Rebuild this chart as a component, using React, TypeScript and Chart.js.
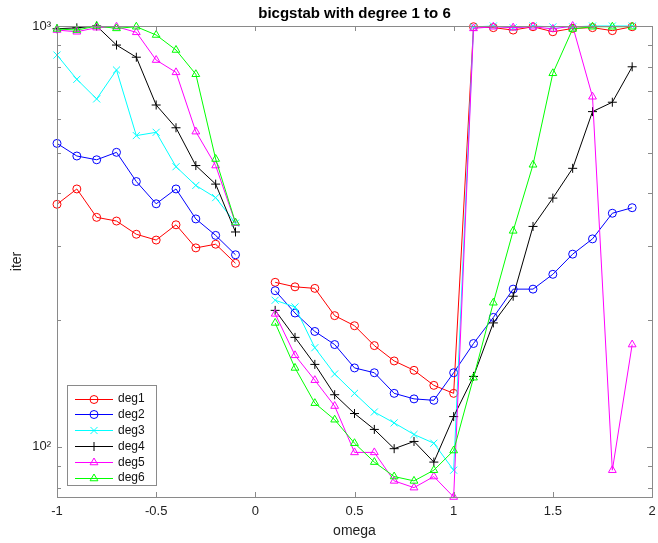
import React, { useEffect, useRef } from "react";
import { Chart, registerables } from "chart.js";

Chart.register(...registerables);

// omega values (x = 0 has no result)
const omega = [
  -1, -0.9, -0.8, -0.7, -0.6, -0.5, -0.4, -0.3, -0.2, -0.1, 0,
  0.1, 0.2, 0.3, 0.4, 0.5, 0.6, 0.7, 0.8, 0.9, 1.0,
  1.1, 1.2, 1.3, 1.4, 1.5, 1.6, 1.7, 1.8, 1.9,
];

const deg1 = [
  377, 410, 351, 344, 320, 310, 337, 297, 303, 273, null,
  246, 240, 238, 205, 194, 174, 160, 152, 140, 134,
  996, 991, 978, 996, 969, 987, 991, 975, 996,
];
const deg2 = [
  526, 491, 481, 501, 427, 378, 410, 348, 318, 286, null,
  235, 208, 188, 175, 154, 150, 134, 130, 129, 150,
  176, 203, 237, 237, 257, 287, 312, 359, 370,
];
const deg3 = [
  853, 747, 671, 786, 549, 559, 463, 418, 391, 340, null,
  223, 215, 172, 149, 134, 121, 114, 107, 102, 88,
  995, 1000, 990, 1000, 995, 995, 1000, 1000, 1000,
];
const deg4 = [
  985, 990, 1000, 901, 843, 649, 573, 466, 421, 324, null,
  211, 182, 157, 133, 120, 110, 99, 103, 92, 118,
  147, 197, 228, 334, 390, 459, 626, 659, 800,
];
const deg5 = [
  978, 969, 991, 996, 966, 830, 776, 561, 466, 340, null,
  207, 165, 144, 125, 97, 97, 83, 80, 85, 76,
  987, 996, 991, 996, 984, 1000, 679, 88, 175,
];
const deg6 = [
  984, 978, 1000, 987, 996, 952, 877, 768, 483, 341, null,
  197, 154, 127, 116, 102, 92, 85, 83, 88, 98,
  146, 220, 326, 468, 772, 984, 996, 996, 996,
];

const seriesNames = ["deg1", "deg2", "deg3", "deg4", "deg5", "deg6"];
const seriesValues = [deg1, deg2, deg3, deg4, deg5, deg6];
const seriesColors = ["#ff0000", "#0000ff", "#00ffff", "#000000", "#ff00ff", "#00ff00"];
const seriesMarkers = ["circle", "circle", "crossRot", "cross", "triangle", "triangle"];
const markerRadius: Record<string, number> = { circle: 4, crossRot: 5, cross: 4.5, triangle: 4.5 };

const xTicks = [-1, -0.5, 0, 0.5, 1, 1.5, 2];
const yMajorTicks = [100, 1000];
const yMajorLabels = ["10²", "10³"];
const yMinorTicks = [80, 90, 200, 300, 400, 500, 600, 700, 800, 900];

const titleText = "bicgstab with degree 1 to 6";
const xLabel = "omega";
const yLabel = "iter";

const FONT = '"Liberation Sans", Arial, Helvetica, sans-serif';
const AXIS_GRAY = "#8a8a8a";

function drawMarker(ctx: CanvasRenderingContext2D, style: string, x: number, y: number, r: number, color: string) {
  ctx.save();
  ctx.strokeStyle = color;
  ctx.lineWidth = 1;
  ctx.beginPath();
  if (style === "circle") {
    ctx.arc(x, y, r, 0, Math.PI * 2);
  } else if (style === "cross") {
    ctx.moveTo(x - r, y);
    ctx.lineTo(x + r, y);
    ctx.moveTo(x, y - r);
    ctx.lineTo(x, y + r);
  } else if (style === "crossRot") {
    const d = r * Math.SQRT1_2;
    ctx.moveTo(x - d, y - d);
    ctx.lineTo(x + d, y + d);
    ctx.moveTo(x - d, y + d);
    ctx.lineTo(x + d, y - d);
  } else if (style === "triangle") {
    let rad = 0;
    ctx.moveTo(x + Math.sin(rad) * r, y - Math.cos(rad) * r);
    rad += (2 * Math.PI) / 3;
    ctx.lineTo(x + Math.sin(rad) * r, y - Math.cos(rad) * r);
    rad += (2 * Math.PI) / 3;
    ctx.lineTo(x + Math.sin(rad) * r, y - Math.cos(rad) * r);
    ctx.closePath();
  }
  ctx.stroke();
  ctx.restore();
}

const matlabAxesPlugin = {
  id: "matlabAxes",
  afterDraw(chart: any) {
    const ctx: CanvasRenderingContext2D = chart.ctx;
    const { left, right, top, bottom } = chart.chartArea;
    const xs = chart.scales.x;
    const ys = chart.scales.y;
    ctx.save();
    // box
    ctx.strokeStyle = AXIS_GRAY;
    ctx.lineWidth = 1;
    ctx.strokeRect(Math.round(left) + 0.5, Math.round(top) + 0.5, Math.round(right - left), Math.round(bottom - top));
    // inner ticks
    const tl = 5;
    ctx.beginPath();
    for (const v of xTicks) {
      const px = Math.round(xs.getPixelForValue(v)) + 0.5;
      ctx.moveTo(px, bottom);
      ctx.lineTo(px, bottom - tl);
      ctx.moveTo(px, top);
      ctx.lineTo(px, top + tl);
    }
    for (const v of [...yMajorTicks, ...yMinorTicks]) {
      const py = Math.round(ys.getPixelForValue(v)) + 0.5;
      const len = yMajorTicks.includes(v) ? tl : 4;
      ctx.moveTo(left, py);
      ctx.lineTo(left + len, py);
      ctx.moveTo(right, py);
      ctx.lineTo(right - len, py);
    }
    ctx.stroke();

    // title
    ctx.fillStyle = "#000";
    ctx.font = `bold 15px ${FONT}`;
    ctx.textAlign = "center";
    ctx.textBaseline = "middle";
    ctx.fillText(titleText, (left + right) / 2, 14);

    // axis labels
    ctx.fillStyle = "#222";
    ctx.font = `14px ${FONT}`;
    ctx.textBaseline = "alphabetic";
    ctx.fillText(xLabel, (left + right) / 2, 535);
    ctx.save();
    ctx.translate(21, (top + bottom) / 2);
    ctx.rotate(-Math.PI / 2);
    ctx.textBaseline = "alphabetic";
    ctx.fillText(yLabel, 0, 0);
    ctx.restore();

    // legend
    const lx = 67, ly = 385, lw = 89, lh = 100;
    ctx.fillStyle = "#fff";
    ctx.fillRect(lx, ly, lw, lh);
    ctx.strokeStyle = AXIS_GRAY;
    ctx.strokeRect(lx + 0.5, ly + 0.5, lw, lh);
    ctx.font = `12px ${FONT}`;
    ctx.textAlign = "left";
    ctx.textBaseline = "middle";
    seriesNames.forEach((name, i) => {
      const y = ly + 13.5 + i * 15.8;
      const c = seriesColors[i];
      ctx.strokeStyle = c;
      ctx.lineWidth = 1;
      ctx.beginPath();
      ctx.moveTo(75, Math.round(y) + 0.5);
      ctx.lineTo(113, Math.round(y) + 0.5);
      ctx.stroke();
      drawMarker(ctx, seriesMarkers[i], 94, Math.round(y) + 0.5, markerRadius[seriesMarkers[i]], c);
      ctx.fillStyle = "#111";
      ctx.fillText(name, 118, y + 0.5);
    });
    ctx.restore();
  },
};

export default function App() {
  const canvasRef = useRef<HTMLCanvasElement | null>(null);

  useEffect(() => {
    if (!canvasRef.current) return;
    const datasets = seriesNames.map((name, i) => ({
      label: name,
      data: omega.map((x, j) => ({ x, y: seriesValues[i][j] })),
      borderColor: seriesColors[i],
      backgroundColor: "rgba(0,0,0,0)",
      borderWidth: 1,
      pointStyle: seriesMarkers[i],
      pointRadius: markerRadius[seriesMarkers[i]],
      pointBorderWidth: 1,
      pointBorderColor: seriesColors[i],
      pointBackgroundColor: "rgba(0,0,0,0)",
      fill: false,
      tension: 0,
      spanGaps: false,
      clip: false,
      order: seriesNames.length - i,
    }));

    const chart = new Chart(canvasRef.current, {
      type: "line",
      data: { datasets },
      options: {
        animation: false,
        responsive: false,
        devicePixelRatio: 1,
        layout: { padding: { left: 0, right: 5, top: 26, bottom: 0 } },
        plugins: {
          legend: { display: false },
          title: { display: false },
          tooltip: { enabled: false },
        },
        scales: {
          x: {
            type: "linear",
            min: -1,
            max: 2,
            grid: { display: false, drawTicks: false },
            border: { display: false },
            afterBuildTicks: (scale: any) => {
              scale.ticks = xTicks.map((v) => ({ value: v }));
            },
            afterFit: (scale: any) => {
              scale.height = 46;
              scale.paddingLeft = 0;
              scale.paddingRight = 0;
            },
            ticks: {
              autoSkip: false,
              maxRotation: 0,
              padding: 7,
              color: "#222",
              font: { family: FONT, size: 13 },
              callback: (v: any) => String(Number(v)),
            },
          },
          y: {
            type: "logarithmic",
            min: 76,
            max: 1000,
            grid: { display: false, drawTicks: false },
            border: { display: false },
            afterBuildTicks: (scale: any) => {
              scale.ticks = yMajorTicks.map((v) => ({ value: v }));
            },
            afterFit: (scale: any) => {
              scale.width = 57;
              scale.paddingTop = 0;
              scale.paddingBottom = 0;
            },
            ticks: {
              autoSkip: false,
              padding: 6,
              color: "#222",
              font: { family: FONT, size: 13 },
              callback: (v: any) => {
                const idx = yMajorTicks.indexOf(Number(v));
                return idx >= 0 ? yMajorLabels[idx] : "";
              },
            },
          },
        },
      },
      plugins: [matlabAxesPlugin],
    } as any);

    return () => {
      chart.destroy();
    };
  }, []);

  return (
    <div style={{ position: "absolute", left: 0, top: 0, width: 658, height: 543, background: "#fff" }}>
      <canvas ref={canvasRef} width={658} height={543} style={{ display: "block", width: 658, height: 543 }} />
    </div>
  );
}
